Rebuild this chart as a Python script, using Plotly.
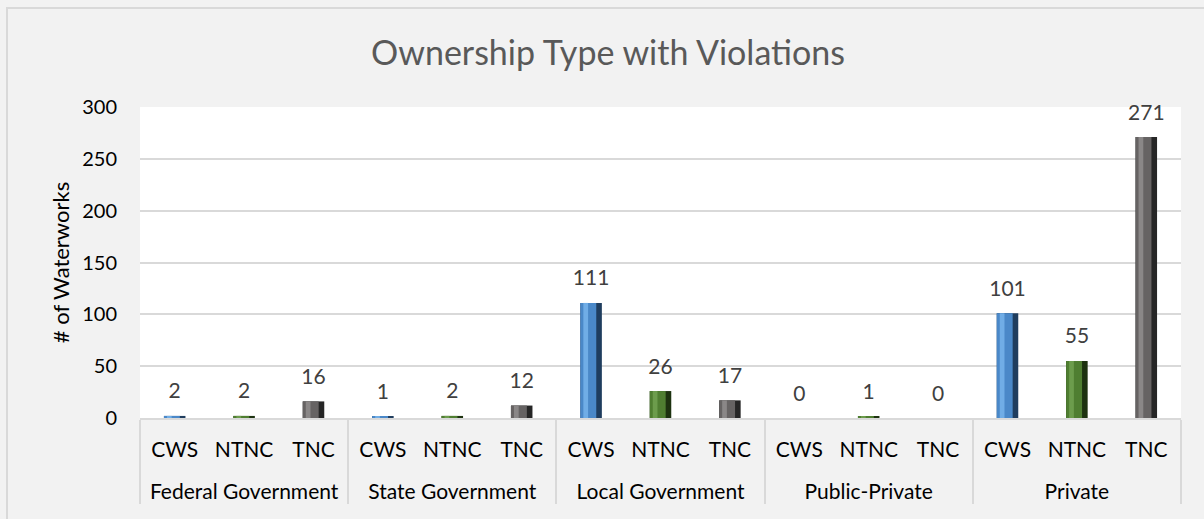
import plotly.graph_objects as go

# ---- data ----
groups = ["Federal Government", "State Government", "Local Government", "Public-Private", "Private"]
types = ["CWS", "NTNC", "TNC"]
cws = [2, 1, 111, 0, 101]
ntnc = [2, 2, 26, 1, 55]
tnc = [16, 12, 17, 0, 271]
y_ticks = [0, 50, 100, 150, 200, 250, 300]

# ---- styles ----
FONT = "Lato"
mid = {"CWS": "#4a88c8", "NTNC": "#4f7e31", "TNC": "#666363"}
dark = {"CWS": "#1f3d5e", "NTNC": "#1d3210", "TNC": "#262626"}
light = {"CWS": "#70ade6", "NTNC": "#6c9c4c", "TNC": "#8a8787"}

outer, inner, vals, c_mid, c_dark, c_light = [], [], [], [], [], []
series = {"CWS": cws, "NTNC": ntnc, "TNC": tnc}
for gi, g in enumerate(groups):
    for t in types:
        outer.append("<br>" + g)
        inner.append(t)
        vals.append(series[t][gi])
        c_mid.append(mid[t])
        c_dark.append(dark[t])
        c_light.append(light[t])

x = [outer, inner]
W = 0.31
n_bars = len(vals)

fig = go.Figure()
# dark base (right shadow edge)
fig.add_trace(go.Bar(
    x=x, y=vals, width=W, marker=dict(color=c_dark, line=dict(width=0)),
    hoverinfo="skip", showlegend=False,
))
fig.add_trace(go.Bar(
    x=x, y=vals, width=W * 0.74, offset=-W / 2,
    marker=dict(color=c_mid, line=dict(width=0)),
    hoverinfo="skip", showlegend=False,
))
fig.add_trace(go.Bar(
    x=x, y=vals, width=W * 0.22, offset=-W / 2 + W * 0.14,
    marker=dict(color=c_light, line=dict(width=0)),
    hoverinfo="skip", showlegend=False,
))
# value labels
fig.add_trace(go.Scatter(
    x=x, y=vals, mode="markers+text", text=vals, textposition="top center",
    marker=dict(size=18, opacity=0),
    textfont=dict(family=FONT, size=21, color="#404040"),
    cliponaxis=False, hoverinfo="skip", showlegend=False,
))

fig.update_layout(
    width=1204, height=519,
    barmode="overlay",
    paper_bgcolor="#f2f2f2",
    plot_bgcolor="#ffffff",
    margin=dict(l=140, r=23, t=107, b=101),
    font=dict(family=FONT, size=20, color="#000000"),
    title=dict(text="Ownership Type with Violations", x=0.505, xanchor="center",
               y=0.898, yanchor="middle",
               font=dict(family=FONT, size=34, color="#595959")),
    showlegend=False,
)
fig.update_xaxes(
    type="multicategory", automargin=False, range=[-0.5, n_bars - 0.5],
    showline=True, linecolor="#d9d9d9", linewidth=1.5,
    showdividers=True, dividercolor="#d9d9d9", dividerwidth=1.5,
    tickfont=dict(family=FONT, size=21, color="#000000"), tickangle=0,
    ticklabelstandoff=12, ticks="", showgrid=False,
)
fig.update_yaxes(
    range=[0, 300], tickvals=y_ticks, automargin=False,
    showgrid=True, gridcolor="#d9d9d9", gridwidth=1.5,
    zeroline=False, showline=False,
    ticks="outside", ticklen=18, tickcolor="rgba(0,0,0,0)",
    tickfont=dict(family=FONT, size=20, color="#000000"),
    title=dict(text="# of Waterworks", standoff=6,
               font=dict(family=FONT, size=22, color="#000000")),
)

# outer frame of the chart
fig.add_shape(type="rect", xref="paper", yref="paper",
              x0=(7 - 140) / 1041, x1=(1210 - 140) / 1041,
              y0=(418 - 525) / 311, y1=(418 - 8) / 311,
              line=dict(color="#d9d9d9", width=2), fillcolor="rgba(0,0,0,0)",
              layer="below")

fig.write_html(
    "out.html",
    config={"displayModeBar": False},
    post_script="document.body.style.margin='0';document.body.style.background='#f2f2f2';",
)
